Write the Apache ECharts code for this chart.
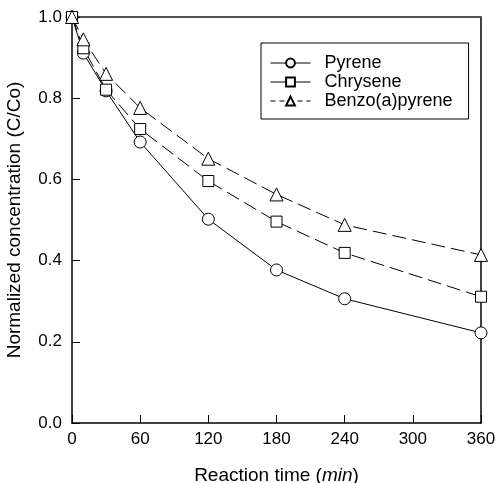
<!DOCTYPE html>
<html>
<head>
<meta charset="utf-8">
<script src="https://cdn.jsdelivr.net/npm/echarts@6/dist/echarts.min.js"></script>
<style>
  html, body { margin: 0; padding: 0; background: #fff; }
  #chart { width: 496px; height: 483px; }
</style>
</head>
<body>
<div id="chart"></div>
<script>
// Sampling times (min)
var times = [0, 10, 30, 60, 120, 180, 240, 360];
// Normalized concentration C/Co for each PAH
var pyrene = [1.0, 0.911, 0.818, 0.692, 0.502, 0.377, 0.306, 0.222];
var chrysene = [1.0, 0.923, 0.821, 0.724, 0.596, 0.496, 0.419, 0.311];
var benzoPyrene = [1.0, 0.945, 0.86, 0.776, 0.651, 0.563, 0.488, 0.414];
var seriesNames = ['Pyrene', 'Chrysene', 'Benzo(a)pyrene'];
var xTicks = [0, 60, 120, 180, 240, 300, 360];
var yTicks = [0.0, 0.2, 0.4, 0.6, 0.8, 1.0];

var FONT = 'Liberation Sans';

function pairs(ys) {
  return times.map(function (t, i) { return [t, ys[i]]; });
}

function makeSeries(name, ys, symbol, size, dashed) {
  return {
    name: name,
    type: 'line',
    data: pairs(ys),
    symbol: symbol,
    symbolSize: size,
    showAllSymbol: true,
    lineStyle: { color: '#000', width: 1, type: dashed ? [14, 6] : 'solid' },
    itemStyle: { color: '#fff', borderColor: '#000', borderWidth: 1 },
    emphasis: { disabled: true },
    animation: false
  };
}

var chart = echarts.init(document.getElementById('chart'), null, { renderer: 'canvas' });

chart.setOption({
  backgroundColor: '#fff',
  animation: false,
  grid: { left: 72, right: 15, top: 17, bottom: 60, outerBoundsMode: 'none', containLabel: false },
  legend: {
    orient: 'vertical',
    left: 261,
    top: 43,
    padding: [11, 16, 9, 9],
    itemWidth: 40,
    itemHeight: 11,
    itemGap: 1,
    borderColor: '#000',
    borderWidth: 1,
    backgroundColor: '#fff',
    textStyle: { fontFamily: FONT, fontSize: 18, color: '#000', padding: [0, 0, 0, 9] },
    data: [
      { name: seriesNames[0], lineStyle: { type: 'solid', width: 1 } },
      { name: seriesNames[1], lineStyle: { type: 'solid', width: 1 } },
      { name: seriesNames[2], lineStyle: { type: [5, 4], width: 1 } }
    ]
  },
  xAxis: [{
    type: 'value',
    min: xTicks[0],
    max: xTicks[xTicks.length - 1],
    interval: 60,
    name: 'Reaction time ({i|min})',
    nameLocation: 'middle',
    nameGap: 43,
    nameTextStyle: {
      fontFamily: FONT, fontSize: 19, color: '#000',
      rich: { i: { fontFamily: FONT, fontSize: 19, fontStyle: 'italic', color: '#000' } }
    },
    axisLine: { show: true, onZero: false, lineStyle: { color: '#000', width: 1.5 } },
    axisTick: { show: true, inside: true, length: 8, lineStyle: { color: '#000', width: 1 } },
    axisLabel: { fontFamily: FONT, fontSize: 17, color: '#000', margin: 8 },
    splitLine: { show: false }
  }, {
    type: 'value',
    position: 'top',
    min: xTicks[0],
    max: xTicks[xTicks.length - 1],
    axisLine: { show: true, onZero: false, lineStyle: { color: '#555', width: 2 } },
    axisTick: { show: false },
    axisLabel: { show: false },
    splitLine: { show: false }
  }],
  yAxis: [{
    type: 'value',
    min: yTicks[0],
    max: yTicks[yTicks.length - 1],
    interval: 0.2,
    name: 'Normalized concentration (C/Co)',
    nameLocation: 'middle',
    nameGap: 48,
    nameTextStyle: { fontFamily: FONT, fontSize: 19, color: '#000' },
    axisLine: { show: true, onZero: false, lineStyle: { color: '#000', width: 1.5 } },
    axisTick: { show: true, inside: true, length: 8, lineStyle: { color: '#000', width: 1 } },
    axisLabel: {
      fontFamily: FONT, fontSize: 17, color: '#000', margin: 10,
      formatter: function (v) { return v.toFixed(1); }
    },
    splitLine: { show: false }
  }, {
    type: 'value',
    position: 'right',
    min: yTicks[0],
    max: yTicks[yTicks.length - 1],
    axisLine: { show: true, onZero: false, lineStyle: { color: '#000', width: 1.5 } },
    axisTick: { show: false },
    axisLabel: { show: false },
    splitLine: { show: false }
  }],
  series: [
    makeSeries(seriesNames[0], pyrene, 'circle', 12, false),
    makeSeries(seriesNames[1], chrysene, 'rect', 11, true),
    makeSeries(seriesNames[2], benzoPyrene, 'triangle', 13, true)
  ]
});
</script>
</body>
</html>
